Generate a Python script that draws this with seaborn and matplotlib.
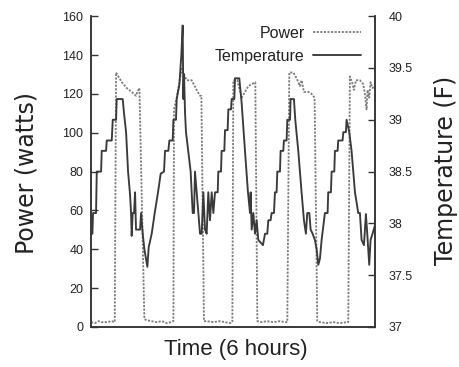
import matplotlib
matplotlib.use("Agg")
import matplotlib.pyplot as plt
from matplotlib import font_manager
from matplotlib.lines import Line2D
import pandas as pd
import seaborn as sns

# Time in minutes over the 6-hour run
power_time = [0.0, 5.1, 9.3, 13.5, 19.9, 26.2, 30.0, 31.7, 34.6, 38.9, 45.2, 51.6, 57.0, 58.7, 61.3,
              67.6, 70.6, 76.9, 83.2, 89.6, 95.9, 101.0, 104.4, 105.2, 108.6, 112.8, 115.4, 117.9,
              121.3, 127.6, 133.9, 138.2, 139.9, 143.2, 146.6, 155.1, 163.5, 169.9, 176.2, 179.2,
              180.4, 185.5, 191.0, 199.4, 208.3, 210.9, 216.3, 222.7, 231.1, 239.6, 245.9, 248.9,
              251.4, 256.5, 260.7, 264.9, 267.0, 270.0, 275.5, 279.7, 283.5, 286.9, 290.3, 298.7,
              307.2, 315.6, 324.1, 326.2, 328.3, 331.7, 333.4, 335.9, 341.0, 345.2, 347.3, 349.4,
              350.7, 352.8, 354.5, 357.0, 360.0]
power_watts = [2.5, 2.0, 3.0, 2.5, 2.5, 3.0, 2.5, 131, 129, 126, 123, 121, 119, 121, 123,
               4, 3.5, 3, 2.5, 3, 2, 2.5, 3, 112, 118, 128, 133, 130,
               127, 127, 122, 119, 119, 3, 3, 2.5, 3, 2.5, 2, 2.5,
               127, 127, 118, 124, 126, 3, 2.5, 3, 2.5, 3, 2.5, 2.5,
               131, 131, 128, 124, 127, 121, 121, 120, 118, 3, 2.5, 2,
               2.5, 2, 2.5, 2.5, 129, 125, 122, 127, 127, 125, 120, 112,
               122, 118, 126, 123, 124]

temp_time = [0.0, 1.7, 2.5, 6.3, 7.2, 12.7, 13.5, 19.0, 19.9, 26.2, 27.5, 31.7, 32.5, 40.1, 41.8,
             44.4, 46.9, 49.4, 50.7, 51.5, 52.8, 54.5, 55.8, 57.0, 62.1, 63.4, 65.5, 67.6, 71.4,
             73.1, 76.9, 80.7, 84.9, 88.3, 92.5, 93.8, 98.0, 99.3, 103.5, 104.4, 107.7, 108.6,
             112.0, 114.5, 116.2, 117.0, 117.9, 119.2, 120.4, 123.4, 126.3, 128.9, 130.6, 131.8,
             133.9, 136.1, 138.2, 140.3, 142.4, 144.5, 146.6, 148.7, 150.8, 153.0, 155.1, 157.2,
             160.6, 161.4, 164.8, 165.6, 169.0, 169.9, 173.2, 174.1, 177.5, 178.3, 181.7, 182.5,
             188.0, 191.0, 195.2, 199.0, 201.6, 202.4, 203.7, 205.8, 207.9, 210.0, 212.1, 218.0,
             220.6, 223.5, 224.8, 227.7, 229.0, 232.0, 233.2, 235.3, 236.2, 239.6, 240.4, 243.8,
             244.6, 248.0, 248.9, 252.3, 253.1, 257.3, 259.0, 262.8, 267.0, 270.0, 272.5, 274.2,
             276.8, 278.5, 281.0, 283.9, 286.1, 288.2, 290.3, 292.4, 295.4, 296.6, 300.0, 300.8,
             304.2, 305.1, 308.5, 309.3, 312.7, 313.5, 319.0, 319.9, 323.2, 324.1, 327.5, 330.4,
             334.7, 338.9, 341.0, 343.1, 346.1, 348.6, 350.3, 352.8, 354.5, 357.0, 360.0]
temp_f = [37.9, 37.9, 38.1, 38.1, 38.5, 38.5, 38.7, 38.7, 38.8, 38.8, 39.0, 39.0, 39.2, 39.2, 39.06,
          38.88, 38.5, 38.28, 38.1, 37.88, 38.1, 38.1, 38.3, 37.94, 37.94, 38.1, 37.9, 37.75, 37.58,
          37.77, 37.9, 38.1, 38.3, 38.48, 38.5, 38.7, 38.7, 38.8, 38.8, 39.0, 39.0, 39.2,
          39.34, 39.63, 39.91, 39.2, 39.44, 39.06, 38.88, 38.69, 38.5, 38.1, 38.1, 38.5,
          38.3, 38.09, 37.9, 37.9, 38.3, 37.94, 37.9, 38.3, 38.03, 38.3, 38.1, 38.3,
          38.3, 38.5, 38.5, 38.7, 38.7, 38.9, 38.9, 39.1, 39.1, 39.2, 39.2, 39.4,
          39.4, 39.16, 38.7, 38.3, 38.1, 38.3, 37.94, 38.1, 37.9, 38.03, 37.84, 37.79,
          37.9, 37.9, 38.03, 38.03, 38.1, 38.1, 38.3, 38.3, 38.5, 38.5, 38.7, 38.7,
          38.8, 38.8, 39.0, 39.0, 39.2, 39.2, 39.0, 38.7, 38.3, 38.03, 37.9, 38.1,
          38.1, 37.94, 37.9, 37.84, 37.75, 37.6, 37.66, 37.84, 38.03, 38.1, 38.1, 38.3,
          38.3, 38.5, 38.5, 38.7, 38.7, 38.8, 38.8, 38.88, 38.88, 39.0, 38.88, 38.7,
          38.3, 38.1, 38.1, 37.84, 37.79, 38.09, 37.9, 37.6, 37.84, 37.9, 37.98]

power_ticks = [0, 20, 40, 60, 80, 100, 120, 140, 160]
temp_ticks = [37, 37.5, 38, 38.5, 39, 39.5, 40]
temp_tick_labels = ["37", "37.5", "38", "38.5", "39", "39.5", "40"]

sns.set_style("white")
available = {f.name for f in font_manager.fontManager.ttflist}
narrow = "Liberation Sans Narrow" if "Liberation Sans Narrow" in available else "Liberation Sans"
plt.rcParams["font.family"] = [narrow, "DejaVu Sans"]
wide = ["DejaVu Sans"]

power_df = pd.DataFrame({"time": power_time, "power": power_watts})
temp_df = pd.DataFrame({"time": temp_time, "temp": temp_f})

fig = plt.figure(figsize=(4.6, 3.67), dpi=100)
ax = fig.add_axes([0.198, 0.109, 0.617, 0.847])
ax2 = ax.twinx()

power_color = "#7c7c7c"
temp_color = "#3a3a3a"
power_dash = (0, (1.2, 0.8))

sns.lineplot(data=power_df, x="time", y="power", ax=ax, color=power_color,
             linewidth=1.3, linestyle=power_dash, sort=False)
sns.lineplot(data=temp_df, x="time", y="temp", ax=ax2, color=temp_color,
             linewidth=1.35, sort=False)

ax.set_xlim(0, 360)
ax.set_ylim(0, 160)
ax2.set_ylim(37, 40)
ax.set_xticks([])
ax.set_yticks(power_ticks)
ax.set_yticklabels([str(v) for v in power_ticks])
ax2.set_yticks(temp_ticks)
ax2.set_yticklabels(temp_tick_labels)
ax.set_xlabel("")
ax.set_ylabel("")
ax2.set_ylabel("")

for a in (ax, ax2):
    a.spines["top"].set_visible(False)
    for s in ("left", "right", "bottom"):
        a.spines[s].set_color("#333333")
        a.spines[s].set_linewidth(1.1)
    a.tick_params(axis="y", direction="in", length=5, width=1, colors="#333333",
                  labelsize=9, labelcolor="#222222")
ax.tick_params(axis="y", pad=5.5)
ax2.tick_params(axis="y", pad=10)

fig.text(0.513, 0.049, "Time (6 hours)", fontsize=16, color="#222222",
         ha="center", va="center")
fig.text(0.057, 0.529, "Power (watts)", fontsize=17, color="#222222",
         ha="center", va="center", rotation=90, family=wide)
fig.text(0.970, 0.537, "Temperature (F)", fontsize=17, color="#222222",
         ha="center", va="center", rotation=90, family=wide)

handles = [Line2D([0], [0], color=power_color, linewidth=1.3, linestyle=power_dash),
           Line2D([0], [0], color=temp_color, linewidth=1.35)]
leg = ax.legend(handles, ["Power", "Temperature"], loc="upper right",
                bbox_to_anchor=(1.0, 1.016), frameon=False, markerfirst=False,
                handlelength=3.0, handletextpad=0.5, labelspacing=0.5, fontsize=11.5)
for t in leg.get_texts():
    t.set_color("#222222")

fig.savefig("out.png", dpi=100)
